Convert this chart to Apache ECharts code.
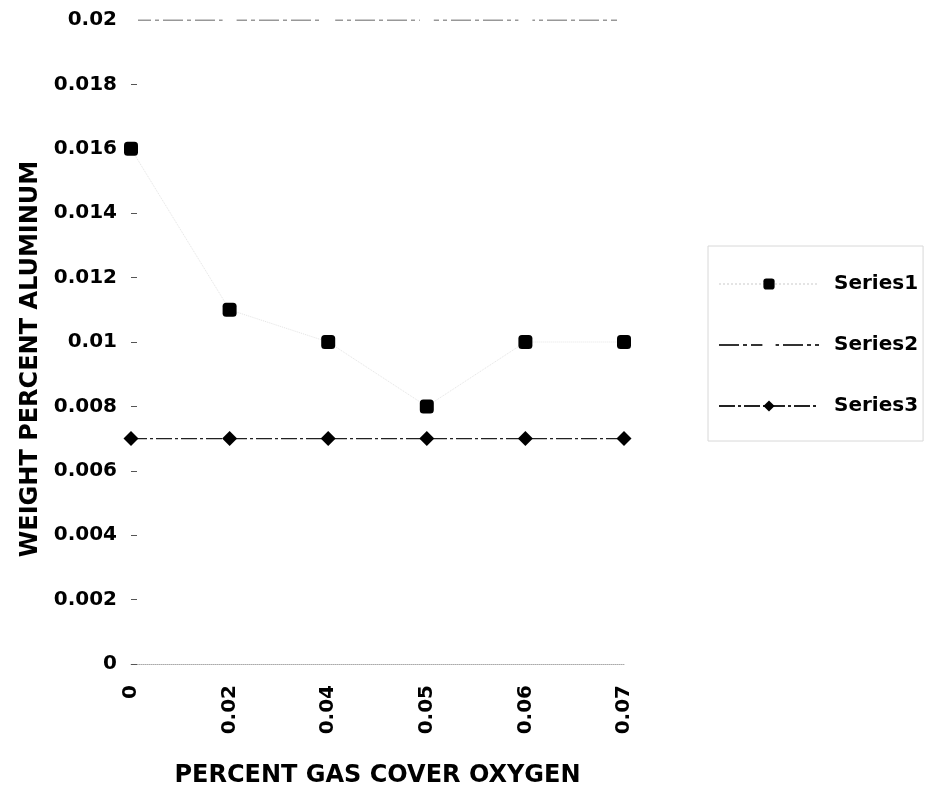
<!DOCTYPE html>
<html style="height: 100%">
<head>
<meta charset="utf-8">
<script src="https://cdn.jsdelivr.net/npm/echarts@6/dist/echarts.min.js"></script>
</head>
<body style="height: 100%; margin: 0; background: #fff">
<div id="container" style="width: 927px; height: 793px"></div>
<script type="text/javascript">
var oxygen = ['0', '0.02', '0.04', '0.05', '0.06', '0.07'];
var series1 = [0.016, 0.011, 0.01, 0.008, 0.01, 0.01];
var series2 = [0.02, 0.02, 0.02, 0.02, 0.02, 0.02];
var series3 = [0.007, 0.007, 0.007, 0.007, 0.007, 0.007];

var font = 'DejaVu Sans, Arial, sans-serif';
var myChart = echarts.init(document.getElementById('container'));
var option = {
    animation: false,
    backgroundColor: '#fff',
    grid: { left: 131, right: 303, top: 20, bottom: 126 },
    legend: {
        orient: 'vertical',
        left: 708,
        top: 246,
        itemWidth: 100,
        itemHeight: 14,
        itemGap: 41,
        padding: [28, 5, 25, 10],
        borderColor: '#d8d8d8',
        borderWidth: 1,
        textStyle: { fontFamily: font, fontWeight: 'bold', fontSize: 20, color: '#000', padding: [0, 0, 0, 10] },
        data: ['Series1', 'Series2', 'Series3']
    },
    xAxis: {
        type: 'category',
        data: oxygen,
        boundaryGap: false,
        name: 'PERCENT GAS COVER OXYGEN',
        nameLocation: 'middle',
        nameGap: 100,
        nameTextStyle: { fontFamily: font, fontWeight: 'bold', fontSize: 24, color: '#000' },
        axisLine: { lineStyle: { color: '#aaa', type: 'dotted', width: 1 } },
        axisTick: { show: false },
        axisLabel: { rotate: 90, margin: 21, fontFamily: font, fontWeight: 'bold', fontSize: 20, color: '#000' },
        splitLine: { show: false }
    },
    yAxis: {
        type: 'value',
        min: 0,
        max: 0.02,
        interval: 0.002,
        name: 'WEIGHT PERCENT ALUMINUM',
        nameLocation: 'middle',
        nameGap: 86,
        nameTextStyle: { fontFamily: font, fontWeight: 'bold', fontSize: 24, color: '#000', padding: [0, 34, 0, 0] },
        axisLine: { show: false },
        axisTick: { show: true, inside: true, length: 6, lineStyle: { color: '#555' } },
        axisLabel: { margin: 14, fontFamily: font, fontWeight: 'bold', fontSize: 20, color: '#000' },
        splitLine: { show: false }
    },
    series: [
        {
            name: 'Series1',
            type: 'line',
            data: series1,
            symbol: 'roundRect',
            symbolSize: 14,
            itemStyle: { color: '#000' },
            lineStyle: { color: '#e4e4e4', width: 1, type: 'dotted' }
        },
        {
            name: 'Series2',
            type: 'line',
            data: series2,
            symbol: 'emptyRect',
            symbolSize: 12,
            itemStyle: { color: '#fff', borderColor: '#bbb', borderWidth: 1 },
            lineStyle: { color: '#333', width: 1, type: [20, 4, 4, 4] }
        },
        {
            name: 'Series3',
            type: 'line',
            data: series3,
            symbol: 'diamond',
            symbolSize: 15,
            itemStyle: { color: '#000' },
            lineStyle: { color: '#222', width: 1.2, type: [16, 3, 3, 3] }
        }
    ]
};
myChart.setOption(option);
</script>
</body>
</html>
